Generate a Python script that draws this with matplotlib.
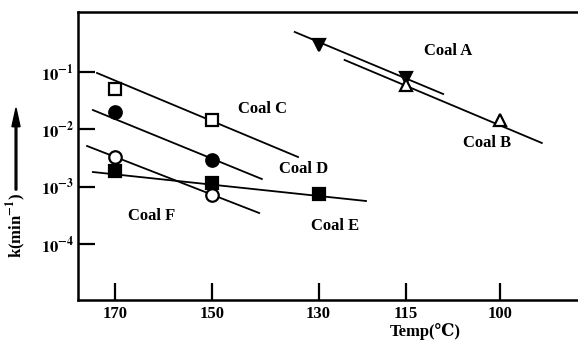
import numpy as np
import matplotlib
matplotlib.use("Agg")
import matplotlib.pyplot as plt

plt.rcParams['font.family'] = ['Liberation Serif', 'DejaVu Serif']
plt.rcParams['font.weight'] = 'bold'
plt.rcParams['mathtext.fontset'] = 'stix'

# temperatures (deg C) and rate constants k (1/min)
coal_a_t = [130, 115]
coal_a_k = [0.296, 0.0786]
coal_a_line_t = [134.3, 108.9]
coal_a_line_k = [0.499, 0.0413]

coal_b_t = [115, 100]
coal_b_k = [0.0593, 0.0146]
coal_b_line_t = [125.4, 93.7]
coal_b_line_k = [0.162, 0.00578]

coal_c_t = [170, 150]
coal_c_k = [0.0505, 0.0146]
coal_c_line_t = [173.9, 133.7]
coal_c_line_k = [0.0961, 0.00329]

coal_d_t = [170, 150]
coal_d_k = [0.0200, 0.00292]
coal_d_line_t = [174.8, 140.4]
coal_d_line_k = [0.0217, 0.00136]

coal_e_t = [170, 150, 130]
coal_e_k = [0.00188, 0.00116, 0.000745]
coal_e_line_t = [174.8, 121.7]
coal_e_line_k = [0.0018, 0.000562]

coal_f_t = [170, 150]
coal_f_k = [0.00329, 0.000716]
coal_f_line_t = [176.1, 140.9]
coal_f_line_k = [0.00512, 0.000347]

temp_ticks = [170, 150, 130, 115, 100]
k_ticks = [1e-1, 1e-2, 1e-3, 1e-4]
k_tick_labels = [r'$\mathbf{10^{-1}}$', r'$\mathbf{10^{-2}}$',
                 r'$\mathbf{10^{-3}}$', r'$\mathbf{10^{-4}}$']


def inv_t(t):
    # Arrhenius axis: 1000/T(K)
    return 1000.0 / (np.array(t, dtype=float) + 273.15)


fig = plt.figure(figsize=(5.78, 3.4), dpi=100)
ax = fig.add_axes([78 / 578, 40 / 340, 500 / 578, 288 / 340])

lw = 1.3
ms = 9

series = [
    (coal_a_line_t, coal_a_line_k, coal_a_t, coal_a_k, 'v', 'black'),
    (coal_b_line_t, coal_b_line_k, coal_b_t, coal_b_k, '^', 'white'),
    (coal_c_line_t, coal_c_line_k, coal_c_t, coal_c_k, 's', 'white'),
    (coal_d_line_t, coal_d_line_k, coal_d_t, coal_d_k, 'o', 'black'),
    (coal_e_line_t, coal_e_line_k, coal_e_t, coal_e_k, 's', 'black'),
    (coal_f_line_t, coal_f_line_k, coal_f_t, coal_f_k, 'o', 'white'),
]
for lt, lk, pt, pk, mk, fc in series:
    ax.plot(inv_t(lt), lk, color='black', lw=lw, zorder=2)
    ax.plot(inv_t(pt), pk, ls='none', marker=mk, ms=ms, mfc=fc,
            mec='black', mew=1.6, zorder=3)

ax.set_yscale('log')
ax.set_xlim(2.2160, 2.7657)
ax.set_ylim(1.054e-5, 1.113)

ax.set_xticks(inv_t(temp_ticks))
ax.set_xticklabels([str(t) for t in temp_ticks])
ax.set_yticks(k_ticks)
ax.set_yticklabels(k_tick_labels)
ax.yaxis.set_minor_locator(matplotlib.ticker.NullLocator())
ax.tick_params(axis='both', direction='in', length=12, width=1.6,
               labelsize=12, pad=4)
ax.tick_params(axis='y', pad=3)

for side in ['left', 'bottom', 'top']:
    ax.spines[side].set_linewidth(1.8)
ax.spines['right'].set_visible(False)

labels = [
    ('Coal A', 0.740, 0.865),
    ('Coal B', 0.818, 0.545),
    ('Coal C', 0.370, 0.663),
    ('Coal D', 0.452, 0.455),
    ('Coal E', 0.514, 0.257),
    ('Coal F', 0.148, 0.292),
]
for txt, fx, fy in labels:
    ax.text(fx, fy, txt, transform=ax.transAxes, ha='center', va='center',
            fontsize=12, fontweight='bold')

fig.text(425 / 578, 1 - 331 / 340, 'Temp(℃)', ha='center', va='center',
         fontsize=12, fontweight='bold')

fig.text(16 / 578, 1 - 226 / 340, r'k(min$^{\mathbf{-1}}$)', rotation=90,
         ha='center', va='center', fontsize=12, fontweight='bold')
fig.patches.append(matplotlib.patches.FancyArrow(
    16 / 578, 1 - 190 / 340, 0, (190 - 108) / 340, width=0.003,
    head_width=0.014, head_length=0.055, length_includes_head=True,
    color='black', transform=fig.transFigure, figure=fig))

fig.savefig('out.png', dpi=100)
